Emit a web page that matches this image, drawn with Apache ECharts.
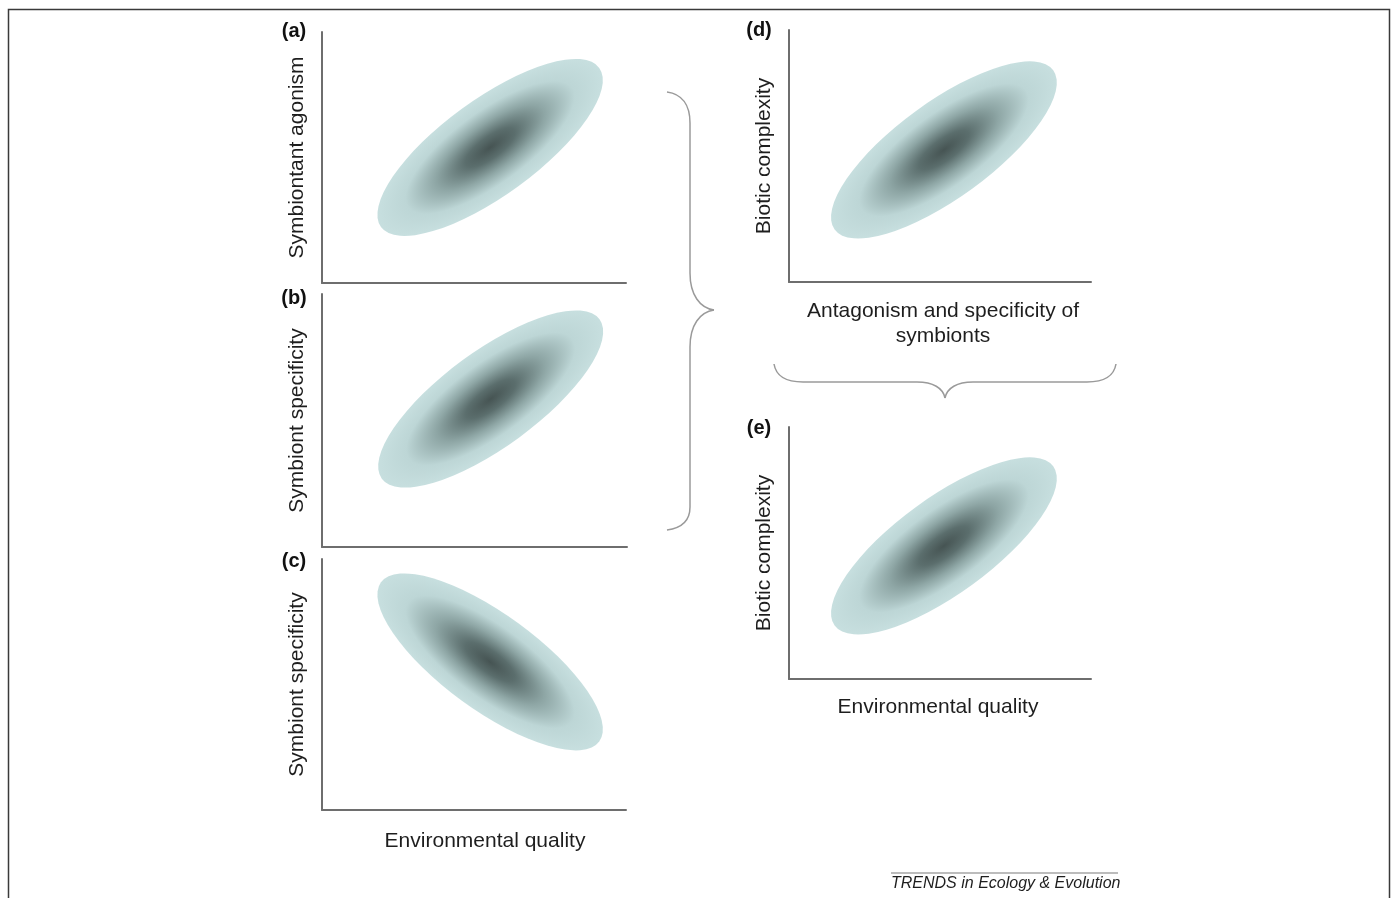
<!DOCTYPE html>
<html>
<head>
<meta charset="utf-8">
<script src="https://cdn.jsdelivr.net/npm/echarts@6/dist/echarts.min.js"></script>
<style>
  html, body { margin: 0; padding: 0; background: #ffffff; }
  #chart { width: 1396px; height: 898px; }
</style>
</head>
<body>
<div id="chart"></div>
<script>
// ---- Data (axis units 0..10 in each panel) ----
const panelLetters = ['(a)', '(b)', '(c)', '(d)', '(e)'];
const yAxisNames = ['Symbiontant agonism', 'Symbiont specificity', 'Symbiont specificity', 'Biotic complexity', 'Biotic complexity'];
const xAxisNames = ['', '', 'Environmental quality', 'Antagonism and specificity of\nsymbionts', 'Environmental quality'];
// ellipse centre [x, y]
const ellipseCentres = [[5.53, 5.40], [5.53, 5.85], [5.53, 5.90], [5.13, 5.24], [5.13, 5.28]];
// end of the ellipse's long axis [x, y]
const ellipseTips = [[9.12, 8.57], [9.10, 9.00], [9.12, 2.73], [8.75, 8.40], [8.75, 8.44]];
const ellipseWidthRatio = [0.355, 0.355, 0.355, 0.355, 0.355];
const footerText = 'TRENDS in Ecology & Evolution';

// ---- Layout ----
const grids = [
  { left: 322, top: 32, width: 304, height: 251 },
  { left: 322, top: 294, width: 305, height: 253 },
  { left: 322, top: 559, width: 304, height: 251 },
  { left: 789, top: 30, width: 302, height: 252 },
  { left: 789, top: 427, width: 302, height: 252 }
];
const letterPos = [[294, 31], [294, 298], [294, 561], [759, 30], [759, 428]];
const xNameGaps = [18, 18, 19, 17, 16];
const xNameShift = [0, 0, 22, 6, -4];
const FONT = '"Liberation Sans", Arial, Helvetica, sans-serif';
const axisColor = '#6e6e6e';

const ellipseFill = {
  type: 'radial', x: 0.5, y: 0.5, r: 0.5,
  colorStops: [
    { offset: 0, color: '#465453' },
    { offset: 0.22, color: '#5b6e6d' },
    { offset: 0.48, color: '#8ea6a5' },
    { offset: 0.75, color: '#bdd6d6' },
    { offset: 1, color: '#c7dfdf' }
  ]
};

const xAxes = [], yAxes = [], series = [];
grids.forEach((g, i) => {
  const sh = xNameShift[i];
  xAxes.push({
    gridIndex: i, type: 'value', min: 0, max: 10,
    name: xAxisNames[i], nameLocation: 'middle', nameGap: xNameGaps[i],
    nameTextStyle: { fontFamily: FONT, fontSize: 21, color: '#1e1e1e', lineHeight: 25,
      padding: sh >= 0 ? [0, 0, 0, sh] : [0, -sh, 0, 0] },
    axisLine: { show: true, lineStyle: { color: axisColor, width: 2 } },
    axisTick: { show: false }, axisLabel: { show: false }, splitLine: { show: false }
  });
  yAxes.push({
    gridIndex: i, type: 'value', min: 0, max: 10,
    name: yAxisNames[i], nameLocation: 'middle', nameGap: 14,
    nameTextStyle: { fontFamily: FONT, fontSize: 21, color: '#1e1e1e' },
    axisLine: { show: true, lineStyle: { color: axisColor, width: 2 } },
    axisTick: { show: false }, axisLabel: { show: false }, splitLine: { show: false }
  });
  series.push({
    type: 'custom', xAxisIndex: i, yAxisIndex: i, silent: true,
    data: [[ellipseCentres[i][0], ellipseCentres[i][1], ellipseTips[i][0], ellipseTips[i][1], ellipseWidthRatio[i]]],
    encode: { x: [0, 2], y: [1, 3] },
    renderItem: function (params, api) {
      const c = api.coord([api.value(0), api.value(1)]);
      const t = api.coord([api.value(2), api.value(3)]);
      const dx = t[0] - c[0], dy = t[1] - c[1];
      const a = Math.hypot(dx, dy);
      const ratio = api.value(4);
      return {
        type: 'circle',
        x: c[0], y: c[1],
        rotation: Math.atan2(-dy, dx),
        scaleX: 1, scaleY: ratio,
        shape: { cx: 0, cy: 0, r: a },
        style: { fill: ellipseFill }
      };
    }
  });
});

const braceStyle = { fill: 'none', stroke: '#9a9a9a', lineWidth: 1.5 };
function curve(x1, y1, cx1, cy1, cx2, cy2, x2, y2) {
  return { type: 'bezierCurve', silent: true, style: braceStyle,
    shape: { x1: x1, y1: y1, cpx1: cx1, cpy1: cy1, cpx2: cx2, cpy2: cy2, x2: x2, y2: y2 } };
}
function seg(x1, y1, x2, y2) {
  return { type: 'line', silent: true, style: braceStyle, shape: { x1: x1, y1: y1, x2: x2, y2: y2 } };
}

const graphics = [
  // outer frame
  { type: 'rect', shape: { x: 8.5, y: 9.5, width: 1381, height: 900 }, style: { fill: 'none', stroke: '#3a3a3a', lineWidth: 1.5 }, silent: true },
  // vertical brace
  curve(667, 92, 682, 94, 690, 105, 690, 123),
  seg(690, 123, 690, 273),
  curve(690, 273, 690, 295, 700, 308, 714, 310),
  curve(714, 310, 700, 312, 690, 325, 690, 347),
  seg(690, 347, 690, 507),
  curve(690, 507, 690, 520, 682, 528, 667, 530),
  // horizontal brace
  curve(774, 364, 776, 376, 785, 382, 803, 382),
  seg(803, 382, 917, 382),
  curve(917, 382, 933, 382, 943, 388, 945, 398),
  curve(945, 398, 947, 388, 957, 382, 973, 382),
  seg(973, 382, 1087, 382),
  curve(1087, 382, 1105, 382, 1114, 376, 1116, 364),
  // footer rule + text
  { type: 'line', shape: { x1: 891, y1: 873, x2: 1118, y2: 873 }, style: { stroke: '#7a7a7a', lineWidth: 1.2 }, silent: true },
  { type: 'text', x: 891, y: 884, style: { text: footerText, font: 'italic 16px ' + FONT, fill: '#1e1e1e', textAlign: 'left', textVerticalAlign: 'middle' }, silent: true }
];
panelLetters.forEach((l, i) => {
  graphics.push({ type: 'text', x: letterPos[i][0], y: letterPos[i][1],
    style: { text: l, font: 'bold 20px ' + FONT, fill: '#111', textAlign: 'center', textVerticalAlign: 'middle' }, silent: true });
});

const chart = echarts.init(document.getElementById('chart'), null, { renderer: 'canvas' });
chart.setOption({
  animation: false,
  backgroundColor: '#ffffff',
  grid: grids.map(g => Object.assign({ containLabel: false }, g)),
  xAxis: xAxes,
  yAxis: yAxes,
  series: series,
  graphic: graphics
});
</script>
</body>
</html>
